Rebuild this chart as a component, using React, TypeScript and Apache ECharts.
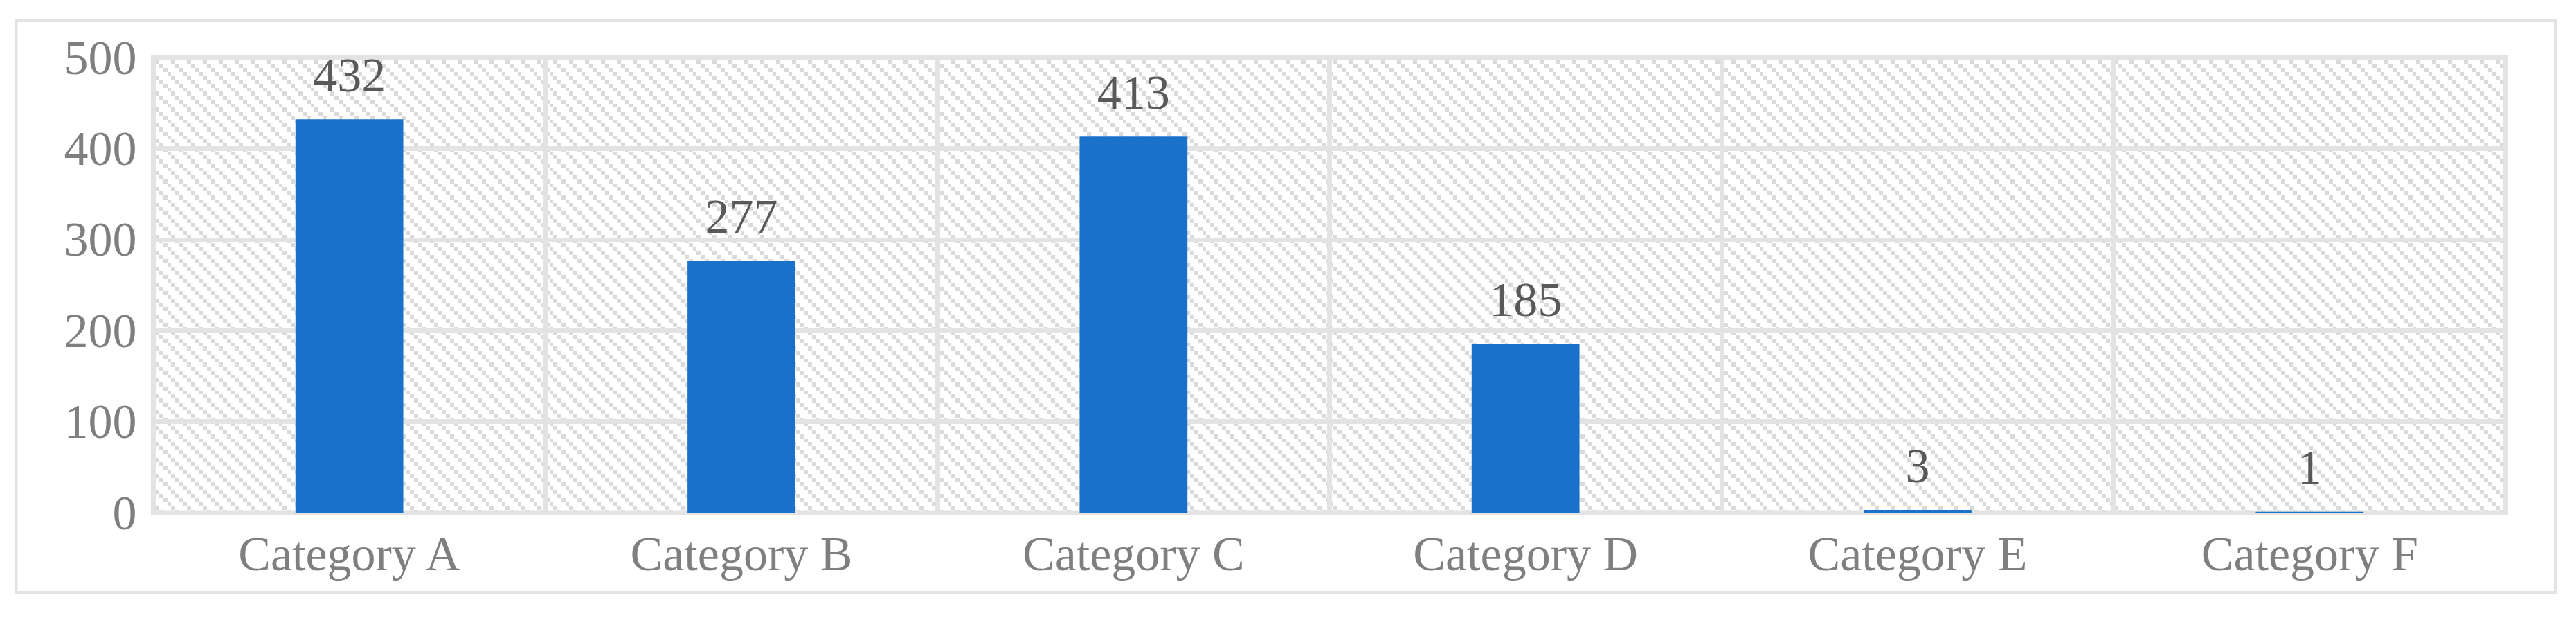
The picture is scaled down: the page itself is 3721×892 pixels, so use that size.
import React, { useEffect, useRef } from "react";
import * as echarts from "echarts";

const categories = ["Category A", "Category B", "Category C", "Category D", "Category E", "Category F"];
const values = [432, 277, 413, 185, 3, 1];
const yTicks = { min: 0, max: 500, interval: 100 };

const FONT = "'Liberation Serif', 'Times New Roman', serif";

function makePattern(): HTMLCanvasElement {
  const c = document.createElement("canvas");
  c.width = 23;
  c.height = 23;
  const ctx = c.getContext("2d")!;
  ctx.fillStyle = "#ffffff";
  ctx.fillRect(0, 0, 23, 23);
  const edges = [0, 6, 12, 17, 23];
  ctx.fillStyle = "#dadada";
  for (let r = 0; r < 4; r++) {
    for (let col = 0; col < 4; col++) {
      if ((col - r + 4) % 4 === 0) {
        ctx.fillRect(edges[col], edges[r], edges[col + 1] - edges[col], edges[r + 1] - edges[r]);
      }
    }
  }
  return c;
}

export default function App() {
  const ref = useRef<HTMLDivElement>(null);
  useEffect(() => {
    document.body.style.margin = "0";
    if (!ref.current) return;
    const chart = echarts.init(ref.current, null, { renderer: "svg" });
    const pattern = makePattern();
    chart.setOption({
      animation: false,
      backgroundColor: "#ffffff",
      graphic: [
        {
          type: "rect",
          shape: { x: 23.5, y: 30, width: 3667.5, height: 825 },
          style: { fill: "none", stroke: "#e3e3e3", lineWidth: 4 },
          silent: true,
          z: -10,
        },
      ],
      grid: {
        left: 221.5,
        right: 101.5,
        top: 83,
        bottom: 152,
        show: true,
        backgroundColor: { image: pattern, repeat: "repeat" },
        borderColor: "#e3e3e3",
        borderWidth: 7,
      },
      xAxis: {
        type: "category",
        data: categories,
        axisLine: { show: false },
        axisTick: { show: false },
        splitLine: { show: true, lineStyle: { color: "#e3e3e3", width: 7 } },
        axisLabel: { color: "#7f7f7f", fontSize: 70, fontFamily: FONT, margin: 24 },
      },
      yAxis: {
        type: "value",
        min: yTicks.min,
        max: yTicks.max,
        interval: yTicks.interval,
        axisLine: { show: false },
        axisTick: { show: false },
        splitLine: { show: true, lineStyle: { color: "#e3e3e3", width: 7 } },
        axisLabel: { color: "#7f7f7f", fontSize: 70, fontFamily: FONT, margin: 24 },
      },
      series: [
        {
          type: "bar",
          data: values,
          barWidth: "27.5%",
          itemStyle: { color: "#1971c9" },
          label: {
            show: true,
            position: "top",
            distance: 29,
            color: "#595959",
            fontSize: 70,
            fontFamily: FONT,
          },
        },
      ],
    });
    return () => chart.dispose();
  }, []);
  return <div ref={ref} style={{ width: 3721, height: 892 }} />;
}
